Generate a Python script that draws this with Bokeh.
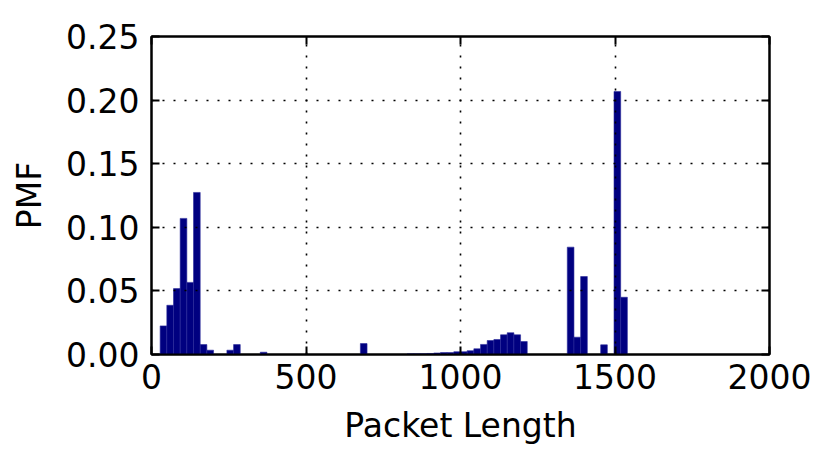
import numpy as np
from bokeh.plotting import figure
from bokeh.models import FixedTicker, LinearAxis, PrintfTickFormatter, ColumnDataSource, CustomJSTickFormatter
from bokeh.embed import file_html
from bokeh.resources import INLINE

# ---- data ----
BIN_MIN = 28.0
BIN_MAX = 1540.0
N_BINS = 70
pmf = [
    0.0225, 0.0387, 0.0518, 0.1070, 0.0567, 0.1274, 0.0078, 0.0034, 0.0, 0.0,
    0.0034, 0.0078, 0.0, 0.0, 0.0, 0.0018, 0.0, 0.0, 0.0, 0.0,
    0.0, 0.0, 0.0, 0.0, 0.0, 0.0, 0.0, 0.0, 0.0, 0.0,
    0.0086, 0.0, 0.0, 0.0, 0.0, 0.0, 0.0, 0.0005, 0.0005, 0.0006,
    0.0008, 0.0012, 0.0015, 0.0015, 0.0022, 0.0022, 0.0030, 0.0045, 0.0079, 0.0110,
    0.0118, 0.0155, 0.0171, 0.0155, 0.0102, 0.0, 0.0, 0.0, 0.0, 0.0,
    0.0, 0.0844, 0.0136, 0.0613, 0.0, 0.0, 0.0076, 0.0, 0.2068, 0.0450,
]
x_ticks = [0, 500, 1000, 1500, 2000]
y_ticks = [0.0, 0.05, 0.10, 0.15, 0.20, 0.25]

edges = np.linspace(BIN_MIN, BIN_MAX, N_BINS + 1)
src = ColumnDataSource(dict(left=edges[:-1], right=edges[1:], top=pmf, bottom=[0.0] * N_BINS))

FONT = "DejaVu Sans"
FS = "33px"

p = figure(frame_width=618, frame_height=318, x_range=(0, 2000), y_range=(0, 0.25),
           output_backend="svg", toolbar_location=None,
           min_border_left=151, min_border_top=36, min_border_right=60, min_border_bottom=108,
           background_fill_color="white", border_fill_color="white")

p.quad(left="left", right="right", top="top", bottom="bottom", source=src,
       fill_color="#000080", line_color="#2a2a9a", line_width=0.6)

xt = FixedTicker(ticks=x_ticks)
yt = FixedTicker(ticks=y_ticks)

p.xaxis.ticker = xt
p.yaxis.ticker = yt
p.yaxis.formatter = PrintfTickFormatter(format="%.2f")
p.xaxis.axis_label = "Packet Length"
p.yaxis.axis_label = "PMF"

for ax in (p.xaxis[0], p.yaxis[0]):
    ax.axis_line_width = 2
    ax.axis_line_color = "black"
    ax.major_tick_in = 8
    ax.major_tick_out = 0
    ax.major_tick_line_width = 2
    ax.minor_tick_in = 0
    ax.minor_tick_out = 0
    ax.major_label_text_font = FONT
    ax.major_label_text_font_size = FS
    ax.major_label_text_color = "black"
    ax.axis_label_text_font = FONT
    ax.axis_label_text_font_size = FS
    ax.axis_label_text_font_style = "normal"
    ax.axis_label_text_color = "black"

p.yaxis.major_label_standoff = 12
p.yaxis.axis_label_standoff = 14
p.xaxis.major_label_standoff = 9
p.xaxis.axis_label_standoff = 14

# mirrored tick axes (top & right), no labels
blank = CustomJSTickFormatter(code="return ''")
right_ax = LinearAxis(ticker=yt, formatter=blank, major_label_text_font_size="10px",
                      major_tick_in=8, major_tick_out=0, major_tick_line_width=2,
                      minor_tick_in=0, minor_tick_out=0, axis_line_width=2,
                      major_label_standoff=0)
top_ax = LinearAxis(ticker=xt, formatter=blank, major_label_text_font_size="10px",
                    major_tick_in=8, major_tick_out=0, major_tick_line_width=2,
                    minor_tick_in=0, minor_tick_out=0, axis_line_width=2,
                    major_label_standoff=0)
p.add_layout(right_ax, "right")
p.add_layout(top_ax, "above")

p.xgrid.ticker = xt
p.ygrid.ticker = yt
for g in (p.xgrid[0], p.ygrid[0]):
    g.grid_line_color = "black"
    g.grid_line_width = 1.6
    g.grid_line_dash = "2 9"
    g.level = "overlay"

p.outline_line_color = "black"
p.outline_line_width = 2

open("out.html", "w").write(file_html(p, INLINE))
